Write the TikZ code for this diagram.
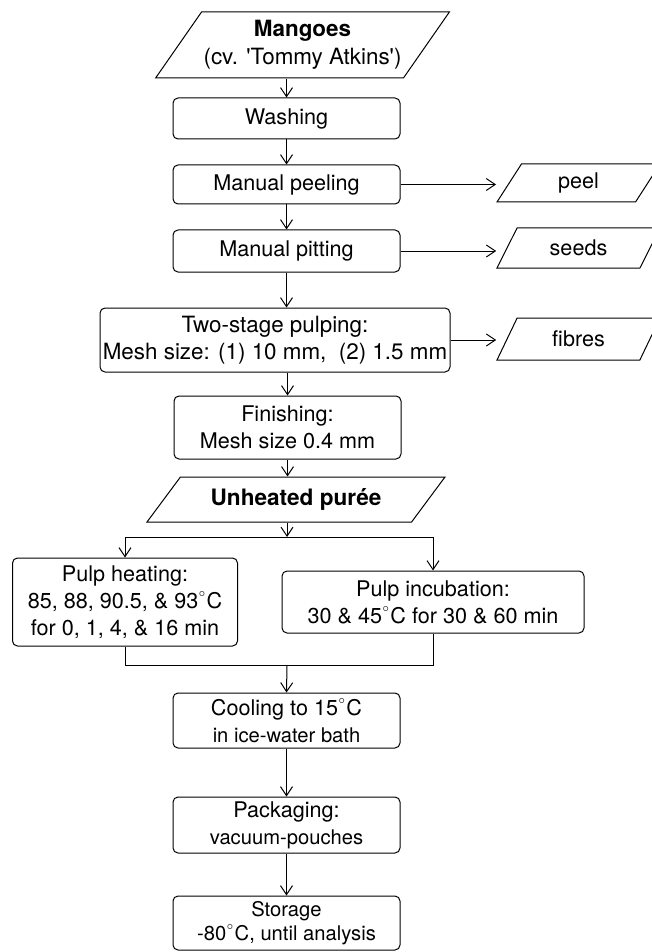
\documentclass[tikz,border=0pt]{standalone}
\usepackage{fontspec}
\setmainfont{TeX Gyre Heros}
\usetikzlibrary{positioning,arrows.meta,shapes.geometric}
\newcommand{\subline}{\fontsize{10.1}{12.2}\selectfont}
\newcommand{\degC}{\raisebox{0.35ex}{$^{\scriptscriptstyle\circ}$}C}

\begin{document}
\begin{tikzpicture}[x=0.5pt,y=-0.5pt,
        block/.style={rectangle, draw, rounded corners=2.5pt, align=center, inner sep=1pt, minimum width=113.5pt, line width=0.5pt, font=\fontsize{10.8}{13.5}\selectfont},
        inout/.style={trapezium, draw, trapezium stretches body, align=center, inner sep=1pt, line width=0.5pt, font=\fontsize{10.8}{13.5}\selectfont},
        edge/.style={draw, ->, >={Straight Barb[length=4.5pt,width=6pt]}, line width=0.5pt}
    ]
        \useasboundingbox (0,0) rectangle (652,952);

        \node [inout, trapezium left angle=49.2, trapezium right angle=130.8, minimum width=137.5pt, minimum height=33pt, font=\fontsize{11.2}{14}\selectfont] (mango) at (302.5,45) {\textbf{Mangoes}\\(cv. \textquotesingle Tommy Atkins\textquotesingle)};
        \node [block, minimum height=20.5pt] (wash) at (286.5,118.5) {Washing};
        \node [block, minimum height=19.5pt] (peeling) at (286.5,184.5) {Manual peeling};
        \node [block, minimum height=21pt] (pitting) at (286.5,251) {Manual pitting};
        \node [block, minimum width=175pt, minimum height=32pt, font=\fontsize{11.2}{13.5}\selectfont] (pulping) at (275,340) {Two-stage pulping:\\Mesh size: (1) 10 mm,~ (2) 1.5 mm};
        \node [block, minimum height=31.5pt] (finish) at (287.5,427.5) {Finishing:\\Mesh size 0.4 mm};
        \node [inout, trapezium left angle=37.8, trapezium right angle=142.2, minimum width=149pt, minimum height=22.5pt, font=\fontsize{11.3}{13.5}\selectfont] (puree) at (296,499.5) {\textbf{Unheated purée}};
        \node [block, minimum width=112.5pt, minimum height=44pt] (heating) at (125,602) {Pulp heating:\\85, 88, 90.5, \& 93\degC\\for 0, 1, 4, \& 16 min};
        \node [block, minimum width=151pt, minimum height=31pt] (incub) at (433,602) {Pulp incubation:\\30 \& 45\degC{} for 30 \& 60 min};
        \node [block, minimum height=27.5pt] (cooling) at (286.5,720.5) {Cooling to 15\degC\\\subline in ice-water bath};
        \node [block, minimum height=28pt] (packing) at (286.5,825) {Packaging:\\\subline vacuum-pouches};
        \node [block, minimum height=27pt, font=\subline] (storage) at (286.5,923) {Storage\\-80\degC, until analysis};

        \node [inout, trapezium left angle=45, trapezium right angle=135, minimum width=81.5pt, minimum height=19pt] (peel) at (578.5,183) {peel};
        \node [inout, trapezium left angle=45, trapezium right angle=135, minimum width=81.5pt, minimum height=20pt] (seeds) at (578.5,248) {seeds};
        \node [inout, trapezium left angle=45, trapezium right angle=135, minimum width=81.5pt, minimum height=21pt] (fibres) at (578.5,339) {fibres};

        \coordinate (split) at (287,537);
        \coordinate (merge) at (287,665);

        \draw [edge] (mango.south -| wash.north) -- (wash.north);
        \draw [edge] (wash) -- (peeling);
        \draw [edge] (peeling) -- (pitting);
        \draw [edge] (pitting.south) -- (pitting.south |- pulping.north);
        \draw [edge] (pulping.south -| finish.north) -- (finish.north);
        \draw [edge] (finish.south) -- (finish.south |- puree.north);
        \draw [edge] (puree.south -| split) -- (split);
        \draw (split -| heating) -- (split -| incub);
        \draw [edge] (split -| heating) -- (heating.north);
        \draw [edge] (split -| incub) -- (incub.north);
        \draw (heating.south) -- (heating.south |- merge) -- (incub.south |- merge) -- (incub.south);
        \draw [edge] (merge) -- (cooling.north);
        \draw [edge] (cooling) -- (packing);
        \draw [edge] (packing) -- (storage);

        \draw [edge] (peeling.east) -- (peeling.east -| peel.bottom left corner);
        \draw [edge] (pitting.east) -- (pitting.east -| seeds.bottom left corner);
        \draw [edge] (pulping.east) -- (pulping.east -| fibres.bottom left corner);
    \end{tikzpicture}
\end{document}
